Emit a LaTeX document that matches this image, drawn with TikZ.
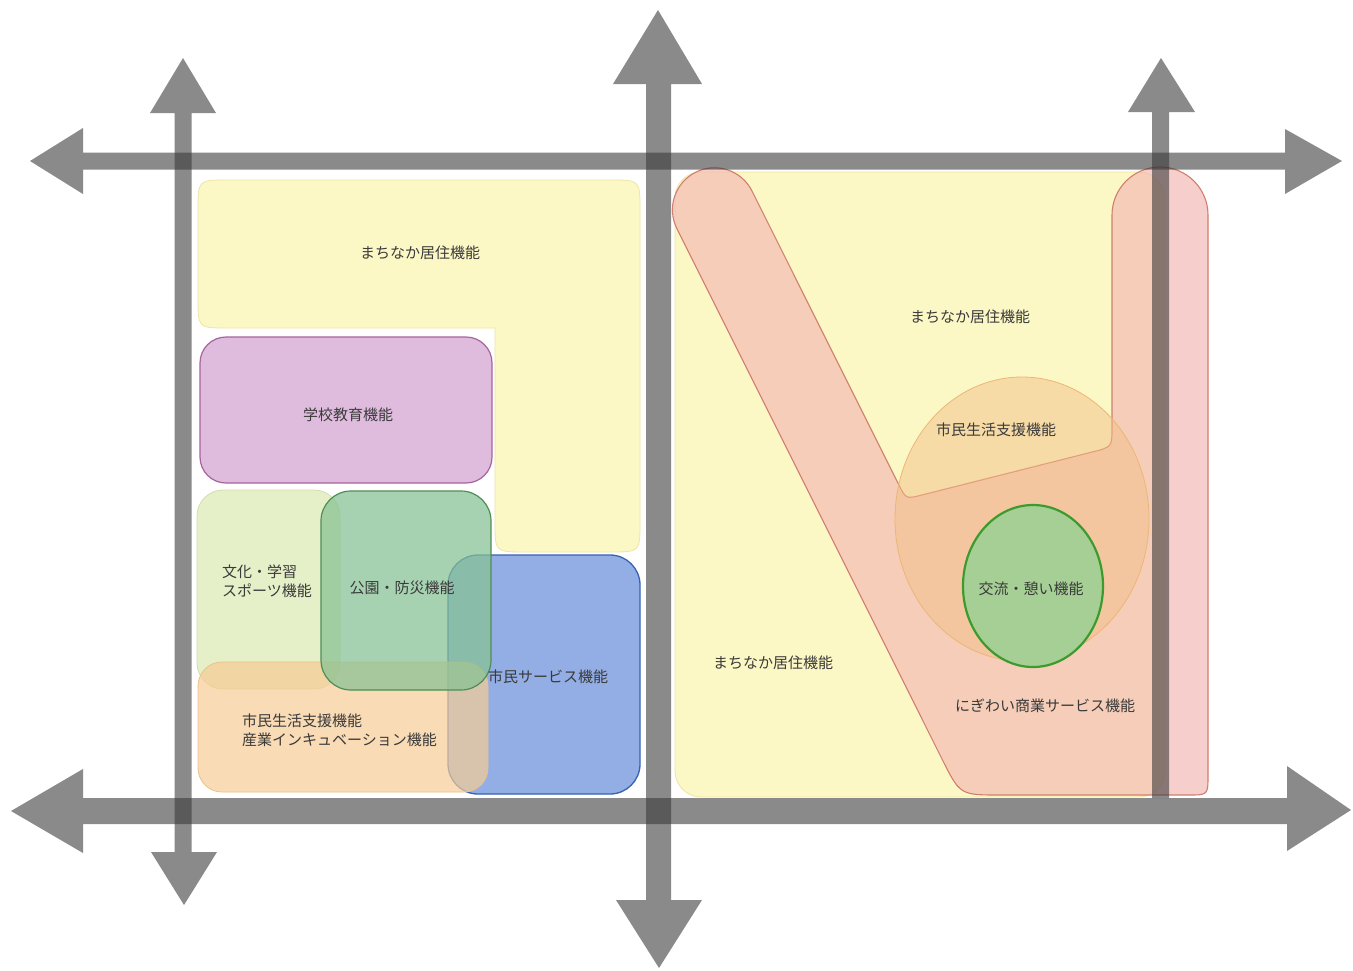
\documentclass[tikz,border=0pt]{standalone}
\usepackage{fontspec}
\newfontfamily\jp{Noto Sans CJK JP}
\definecolor{yellowF}{HTML}{FCF8C6}
\definecolor{yellowD}{HTML}{EDE5A6}
\definecolor{purpleF}{HTML}{DFBCDD}
\definecolor{purpleD}{HTML}{A5649E}
\definecolor{lgreenF}{HTML}{E5EFC8}
\definecolor{lgreenD}{HTML}{D2DEB0}
\definecolor{orangeF}{HTML}{F7CC96}
\definecolor{orangeD}{HTML}{EEC08A}
\definecolor{greenF}{HTML}{86C293}
\definecolor{greenD}{HTML}{4E8E56}
\definecolor{blueF}{HTML}{92AEE4}
\definecolor{blueD}{HTML}{3762B2}
\definecolor{pinkF}{HTML}{F2B6B2}
\definecolor{pinkD}{HTML}{CF7F6E}
\definecolor{circF}{HTML}{F4C088}
\definecolor{circD}{HTML}{EDB676}
\definecolor{ellF}{HTML}{A6CF95}
\definecolor{ellD}{HTML}{3D9B2E}
\definecolor{roadC}{HTML}{393939}
\definecolor{txtC}{HTML}{3A3A3A}
\tikzset{
  road/.style={fill=roadC, fill opacity=0.59},
  lbl/.style={text=txtC, font=\jp\fontsize{15}{19}\selectfont, inner sep=0pt, align=left},
}
\begin{document}
\begin{tikzpicture}[x=1pt,y=-1pt]
\useasboundingbox (0,0) rectangle (1353,970);
\fill[white] (0,0) rectangle (1353,970);

% ---------- left block ----------
\draw[fill=yellowF, draw=yellowD, line width=0.8pt]
  (350,180) -- (610,180) .. controls (640,180) .. (640,210) -- (640,522)
  .. controls (640,552) .. (610,552) -- (525,552) .. controls (495,552) .. (495,522)
  -- (495,328) -- (228,328) .. controls (198,328) .. (198,298) -- (198,210)
  .. controls (198,180) .. (228,180) -- cycle;
\draw[fill=purpleF, draw=purpleD, line width=1.2pt, rounded corners=26pt]
  (200,337) rectangle (492,483);
\draw[fill=lgreenF, draw=lgreenD, line width=0.8pt, rounded corners=26pt]
  (197,490) rectangle (340,689);
\draw[fill=blueF, draw=blueD, line width=1.3pt, rounded corners=30pt]
  (448,555) rectangle (640,794);
\draw[fill=orangeF, draw=orangeD, fill opacity=0.7, line width=0.8pt, rounded corners=24pt]
  (198,662) rectangle (488,792);
\draw[fill=greenF, draw=greenD, fill opacity=0.72, line width=1.2pt, rounded corners=30pt]
  (321,491) rectangle (491,690);

% ---------- right block ----------
\draw[fill=yellowF, draw=yellowD, line width=0.8pt, rounded corners=26pt]
  (675,172) rectangle (1165,797);
\draw[fill=pinkF, fill opacity=0.65, draw=pinkD, line width=1.1pt]
  (752,191) arc[start angle=-26.57, end angle=-206.57, radius=42]
  -- (942,759) .. controls (960,795) .. (1000,795)
  -- (1188,795) .. controls (1208,795) .. (1208,775)
  -- (1208,215) arc[start angle=0, end angle=-180, radius=48]
  -- (1112,427) .. controls (1112,447) .. (1092.6,451.9)
  -- (921.5,495.1) .. controls (906,499) .. (898.8,484.7)
  -- cycle;
\draw[fill=circF, fill opacity=0.5, draw=circD, line width=0.8pt]
  (1022,519) ellipse [x radius=127pt, y radius=142pt];
\draw[fill=ellF, draw=ellD, line width=2.2pt]
  (1033,586) ellipse [x radius=70pt, y radius=81pt];

% ---------- labels ----------
\node[lbl] (l1) at (420,253) {まちなか居住機能};
\node[lbl] (l2) at (348,415) {学校教育機能};
\node[lbl, anchor=west] (l3) at (222,581) {文化・学習\\スポーツ機能};
\node[lbl] (l4) at (402,588) {公園・防災機能};
\node[lbl] (l5) at (548,677) {市民サービス機能};
\node[lbl, anchor=west] (l6) at (242,730) {市民生活支援機能\\産業インキュベーション機能};
\node[lbl] (r1) at (970,317) {まちなか居住機能};
\node[lbl] (r2) at (996,430) {市民生活支援機能};
\node[lbl] (r3) at (1031,589) {交流・憩い機能};
\node[lbl] (r4) at (773,663) {まちなか居住機能};
\node[lbl] (r5) at (1045,706) {にぎわい商業サービス機能};

% ---------- roads ----------
% top horizontal
\path[road] (30,161) -- (83,128) -- (83,152.5) -- (1285,152.5) -- (1285,129)
  -- (1342,161) -- (1285,194) -- (1285,169.5) -- (83,169.5) -- (83,194) -- cycle;
% bottom horizontal
\path[road] (11,811) -- (83,769) -- (83,798) -- (1287,798) -- (1287,766)
  -- (1351,810) -- (1287,851) -- (1287,824) -- (83,824) -- (83,853) -- cycle;
% left vertical
\path[road] (183,58) -- (216,113) -- (191.5,113) -- (191.5,852) -- (217,852)
  -- (184,905) -- (151,852) -- (174.5,852) -- (174.5,113) -- (150,113) -- cycle;
% middle vertical
\path[road] (658,10) -- (702,84) -- (671,84) -- (671,900) -- (702,900)
  -- (659,968) -- (616,900) -- (646,900) -- (646,84) -- (613,84) -- cycle;
% right vertical
\path[road] (1161,58) -- (1195,112) -- (1169,112) -- (1169,798) -- (1152,798)
  -- (1152,112) -- (1128,112) -- cycle;
\end{tikzpicture}
\end{document}
